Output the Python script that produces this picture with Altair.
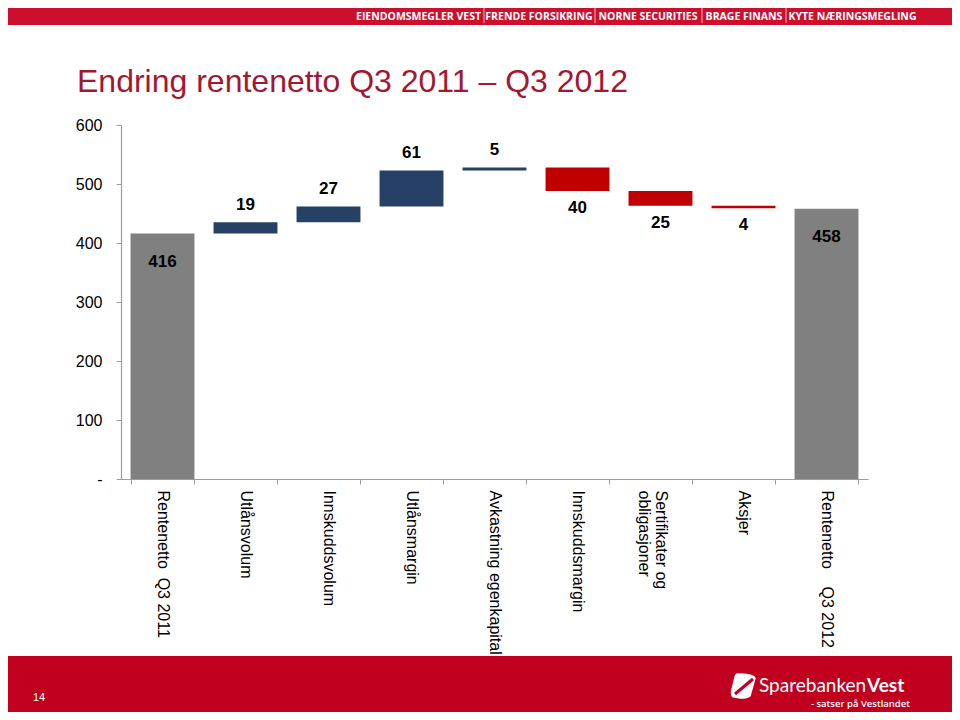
import altair as alt
import pandas as pd

# ---------------- data ----------------
categories = [
    "Rentenetto\u00a0 Q3 2011",
    "Utlånsvolum",
    "Innskuddsvolum",
    "Utlånsmargin",
    "Avkastning egenkapital",
    "Innskuddsmargin",
    "Sertifikater og obligasjoner",
    "Aksjer",
    "Rentenetto\u00a0\u00a0\u00a0 Q3 2012",
]
changes = [416, 19, 27, 61, 5, -40, -25, -4, 458]
kinds = ["total", "up", "up", "up", "up", "down", "down", "down", "total"]
y_ticks = [0, 100, 200, 300, 400, 500, 600]

title_text = "Endring rentenetto Q3 2011 \u2013 Q3 2012"
banner_items = ["EIENDOMSMEGLER VEST", "FRENDE FORSIKRING", "NORNE SECURITIES",
                "BRAGE FINANS", "KYTE NÆRINGSMEGLING"]
page_number = "14"
logo_word1 = "Sparebanken"
logo_word2 = "Vest"
logo_slogan = "- satser på Vestlandet"

# ---------------- waterfall table ----------------
rows = []
running = 0
for cat, v, k in zip(categories, changes, kinds):
    if k == "total":
        start, end = 0, v
        running = v
    else:
        start, end = running, running + v
        running = end
    rows.append({"category": cat, "start": start, "end": end,
                 "label": str(abs(v)), "kind": k})
df = pd.DataFrame(rows)

# ---------------- styles ----------------
FONT = "Liberation Sans"
GREY_BAR = "#808080"
BLUE_BAR = "#264066"
RED_BAR = "#C00000"
AXIS_GREY = "#9C9C9C"
BANNER_RED = "#CE0E2D"
FOOTER_RED = "#C1001F"
TITLE_RED = "#A3172F"

W, H = 747, 354
PAD_L, PAD_T = 113, 117
PAD_R = 944 - PAD_L - W
PAD_B = 704 - PAD_T - H

x_enc = alt.X(
    "category:N",
    sort=categories,
    scale=alt.Scale(paddingInner=0.23, paddingOuter=0.115),
    axis=alt.Axis(
        title=None,
        labelAngle=90,
        labelAlign="left",
        labelBaseline="middle",
        labelFont=FONT,
        labelFontSize=16,
        labelColor="#000000",
        labelPadding=6,
        labelLineHeight=17,
        labelExpr="datum.value == 'Sertifikater og obligasjoner' ? ['Sertifikater og', 'obligasjoner'] : datum.value",
        tickBand="extent",
        tickSize=5,
        tickColor=AXIS_GREY,
        domainColor=AXIS_GREY,
        domainWidth=1.2,
        labelLimit=400,
    ),
)

y_enc = alt.Y(
    "start:Q",
    scale=alt.Scale(domain=[0, 600], nice=False),
    axis=alt.Axis(
        title=None,
        values=y_ticks,
        grid=False,
        labelExpr="datum.value == 0 ? '-\u00a0\u00a0' : datum.label",
        labelFont=FONT,
        labelFontSize=16,
        labelColor="#000000",
        labelPadding=14,
        tickSize=5,
        tickColor=AXIS_GREY,
        domainColor=AXIS_GREY,
        domainWidth=1.2,
    ),
)

base = alt.Chart(df)

bars = base.mark_bar().encode(
    x=x_enc,
    y=y_enc,
    y2="end:Q",
    color=alt.Color("kind:N",
                    scale=alt.Scale(domain=["total", "up", "down"],
                                    range=[GREY_BAR, BLUE_BAR, RED_BAR]),
                    legend=None),
)

def value_labels(kind, dy):
    return base.transform_filter(alt.datum.kind == kind).mark_text(
        font=FONT, fontSize=17, fontWeight="bold", color="#000000",
        baseline="middle", dy=dy
    ).encode(
        x=alt.X("category:N", sort=categories),
        y=alt.Y("end:Q"),
        text="label:N",
    )

lab_total = value_labels("total", 28)
lab_up = value_labels("up", -17)
lab_down = value_labels("down", 17)

# ---------------- decorations (banner / title / footer) ----------------
one = pd.DataFrame({"t": [""]})

top_band = alt.Chart(one).mark_rect(color=BANNER_RED).encode(
    x=alt.value(-PAD_L), x2=alt.value(W + PAD_R),
    y=alt.value(-PAD_T - 10), y2=alt.value(-100),
)
bottom_band = alt.Chart(one).mark_rect(color=FOOTER_RED).encode(
    x=alt.value(-PAD_L), x2=alt.value(W + PAD_R),
    y=alt.value(531), y2=alt.value(H + PAD_B + 10),
)

banner_centers = [297.5, 418, 527, 623, 731.5]
banner_layers = []
for name, cx in zip(banner_items, banner_centers):
    banner_layers.append(
        alt.Chart(pd.DataFrame({"t": [name]})).mark_text(
            font="Open Sans", fontSize=10.5, fontWeight="bold", color="white",
            align="center", baseline="middle"
        ).encode(x=alt.value(cx), y=alt.value(-108.5), text="t:N")
    )
for sx in [363, 474, 581, 665]:
    banner_layers.append(
        alt.Chart(one).mark_rule(color="#F3B5BE", strokeWidth=1).encode(
            x=alt.value(sx), y=alt.value(-117), y2=alt.value(-102)
        )
    )

title = alt.Chart(pd.DataFrame({"t": [title_text]})).mark_text(
    font=FONT, fontSize=32, color=TITLE_RED, align="left", baseline="alphabetic"
).encode(x=alt.value(-44), y=alt.value(-33), text="t:N")

page_num = alt.Chart(pd.DataFrame({"t": [page_number]})).mark_text(
    font=FONT, fontSize=11, color="white", align="center", baseline="middle"
).encode(x=alt.value(-82), y=alt.value(573), text="t:N")

logo1 = alt.Chart(pd.DataFrame({"t": [logo_word1]})).mark_text(
    font="Lato", fontSize=19, color="white", align="left", baseline="alphabetic"
).encode(x=alt.value(638), y=alt.value(567), text="t:N")
logo2 = alt.Chart(pd.DataFrame({"t": [logo_word2]})).mark_text(
    font="Lato", fontSize=19, fontWeight="bold", color="white",
    align="left", baseline="alphabetic"
).encode(x=alt.value(746), y=alt.value(567), text="t:N")
slogan = alt.Chart(pd.DataFrame({"t": [logo_slogan]})).mark_text(
    font="Open Sans", fontSize=9.5, fontWeight=600, color="white",
    align="right", baseline="middle"
).encode(x=alt.value(789), y=alt.value(578.5), text="t:N")
icon = alt.Chart(one).mark_point(
    shape="M -0.45 -1 Q 0.9 -1 1 -0.6 L 0.6 0.8 Q 0.4 1 -0.2 1 L -0.8 0.9 Q -1 0.8 -0.95 0.4 L -0.7 -0.6 Q -0.65 -0.95 -0.45 -1 Z",
    filled=True, color="white", opacity=1, size=650
).encode(x=alt.value(622), y=alt.value(561))
icon_stroke = alt.Chart(one).mark_rule(color=FOOTER_RED, strokeWidth=3).encode(
    x=alt.value(614), y=alt.value(569), x2=alt.value(632), y2=alt.value(554)
)

chart = alt.layer(
    top_band, bottom_band, *banner_layers, title, page_num, icon, icon_stroke,
    logo1, logo2, slogan,
    bars, lab_total, lab_up, lab_down,
).properties(
    width=W,
    height=H,
    autosize=alt.AutoSizeParams(type="none"),
    padding={"left": PAD_L, "top": PAD_T, "right": PAD_R, "bottom": PAD_B},
).configure(
    background="white"
).configure_view(
    stroke=None
)

chart.save("out.html", embed_options={"renderer": "svg", "actions": False})
